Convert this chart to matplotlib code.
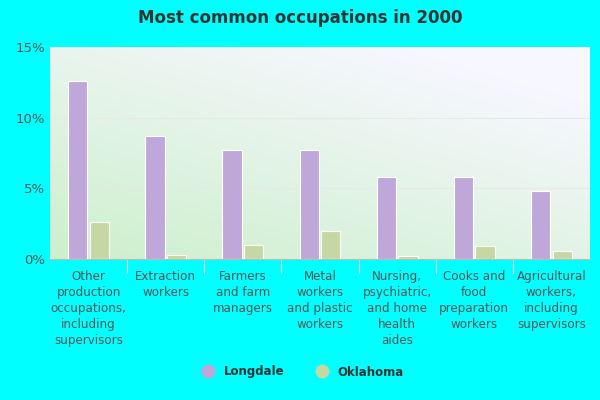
import matplotlib
matplotlib.use("Agg")
import matplotlib.pyplot as plt
from matplotlib.lines import Line2D
import numpy as np

categories = ["Other\nproduction\noccupations,\nincluding\nsupervisors", "Extraction\nworkers",
              "Farmers\nand farm\nmanagers", "Metal\nworkers\nand plastic\nworkers",
              "Nursing,\npsychiatric,\nand home\nhealth\naides", "Cooks and\nfood\npreparation\nworkers",
              "Agricultural\nworkers,\nincluding\nsupervisors"]
longdale = [12.6, 8.7, 7.7, 7.7, 5.8, 5.8, 4.8]
oklahoma = [2.6, 0.3, 1.0, 2.0, 0.2, 0.9, 0.6]
yticks = [0, 5, 10, 15]
ytick_labels = ["0%", "5%", "10%", "15%"]

fig = plt.figure(figsize=(6, 4), dpi=100, facecolor="#00FFFF")
ax = fig.add_axes([50/600, 1-259/400, 540/600, 212/400])

h, w = 100, 100
yy, xx = np.mgrid[0:1:h*1j, 0:1:w*1j]
t = np.clip((xx*0.6 + yy*0.8)/1.2, 0, 1)
c0 = np.array([0.80, 0.94, 0.80]); c1 = np.array([0.97, 0.97, 1.0])
img = c0[None, None, :]*(1-t[..., None]) + c1[None, None, :]*t[..., None]
ax.imshow(img, extent=[-0.5, 6.5, 0, 15], origin="lower", aspect="auto", zorder=0)

x = np.arange(len(categories))
bw = 0.25
ax.bar(x-0.14, longdale, bw, color="#BFA8D9", edgecolor="white", linewidth=0.8, zorder=3)
ax.bar(x+0.14, oklahoma, bw, color="#C5D8A4", edgecolor="white", linewidth=0.8, zorder=3)
ax.set_xlim(-0.5, 6.5)
ax.set_ylim(0, 15)
ax.set_yticks(yticks)
ax.set_yticklabels(ytick_labels, color="#555555", fontsize=9.5)
for yv in [5, 10]:
    ax.axhline(yv, color="#e8e8e8", linewidth=0.8, zorder=1)
ax.set_xticks(x)
ax.set_xticklabels(categories, color="#555555", fontsize=8.6, linespacing=1.3)
ax.tick_params(axis="x", length=0, pad=8)
ax.tick_params(axis="y", length=0)
for xi in np.arange(0.5, 6.5, 1):
    ax.plot([xi, xi], [0, -1.0], color="#dddddd", linewidth=0.8, clip_on=False)
for s in ["top", "right", "left"]:
    ax.spines[s].set_visible(False)
ax.spines["bottom"].set_color("#bbbbbb")

fig.text(0.5, 0.955, "Most common occupations in 2000", ha="center", va="center",
         fontsize=12, fontweight="bold", color="#333333")
handles = [Line2D([], [], marker="o", ls="", markersize=9, color="#BFA8D9"),
           Line2D([], [], marker="o", ls="", markersize=9, color="#C5D8A4")]
leg = fig.legend(handles, ["Longdale", "Oklahoma"], loc="center", bbox_to_anchor=(0.5, 0.07),
                 ncol=2, frameon=False, handletextpad=0.3, fontsize=8.5, columnspacing=2.2)
for txt in leg.get_texts():
    txt.set_fontweight("bold"); txt.set_color("#333333")
fig.savefig("out.png", dpi=100, facecolor=fig.get_facecolor())
